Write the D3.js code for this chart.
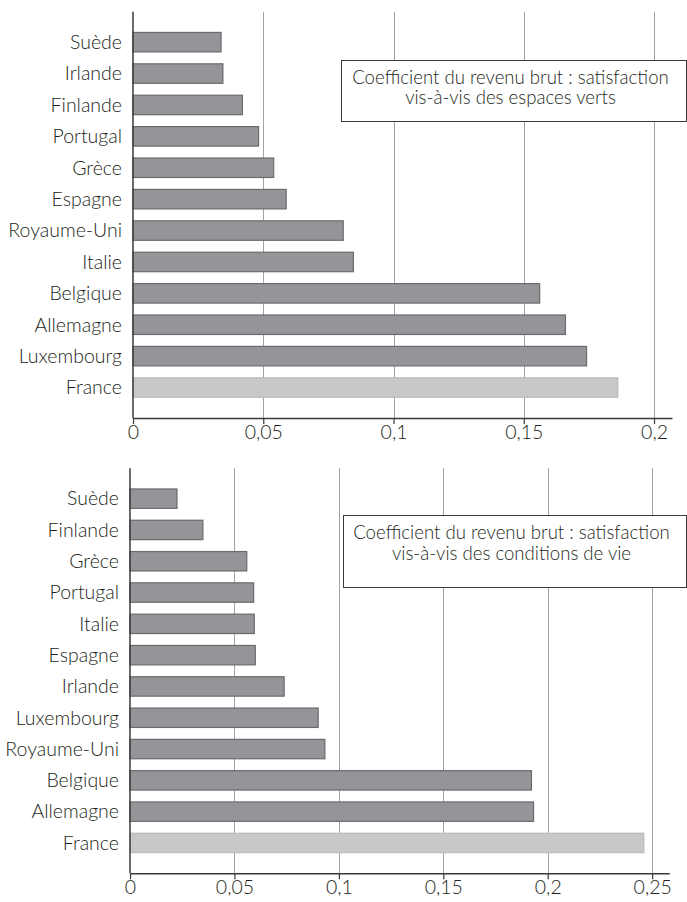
<!DOCTYPE html>
<html><head><meta charset="utf-8">
<script src="https://cdn.jsdelivr.net/npm/d3@7"></script>
<style>body{margin:0;background:#fff}svg{display:block}text{font-family:Lato,"Open Sans",sans-serif;font-weight:300;fill:#231f20}</style>
</head><body>
<script>
const cats1 = ["Suède","Irlande","Finlande","Portugal","Grèce","Espagne","Royaume-Uni","Italie","Belgique","Allemagne","Luxembourg","France"];
const vals1 = [0.0338,0.0345,0.042,0.0482,0.054,0.0588,0.0807,0.0846,0.1561,0.166,0.1741,0.1861];
const ticks1 = [0,0.05,0.1,0.15,0.2];
const title1 = ["Coefficient du revenu brut : satisfaction","vis-à-vis des espaces verts"];

const cats2 = ["Suède","Finlande","Grèce","Portugal","Italie","Espagne","Irlande","Luxembourg","Royaume-Uni","Belgique","Allemagne","France"];
const vals2 = [0.0225,0.0349,0.0559,0.0592,0.0595,0.060,0.0738,0.0901,0.0933,0.1922,0.1932,0.246];
const ticks2 = [0,0.05,0.1,0.15,0.2,0.25];
const title2 = ["Coefficient du revenu brut : satisfaction","vis-à-vis des conditions de vie"];

const svg = d3.select("body").append("svg").attr("width",687).attr("height",902);

function panel(cfg){
  const {cats, vals, ticks, title, xr, xmax, yr, box, lines} = cfg;
  const g = svg.append("g");
  const x = d3.scaleLinear().domain([0,xmax]).range(xr);
  const y = d3.scaleBand().domain(cats).range(yr).paddingInner(0.38).paddingOuter(0.66);
  g.selectAll("line.grid").data(ticks.filter(t=>t>0)).join("line")
    .attr("x1",d=>Math.round(x(d))+0.5).attr("x2",d=>Math.round(x(d))+0.5)
    .attr("y1",yr[0]).attr("y2",yr[1]).attr("stroke","#a3a3a3").attr("stroke-width",1);
  g.selectAll("rect.bar").data(cats).join("rect")
    .attr("x",x(0)).attr("y",d=>y(d))
    .attr("width",(d,i)=>x(vals[i])-x(0)).attr("height",y.bandwidth())
    .attr("fill",d=>d==="France"?"#c7c8ca":"#939598")
    .attr("stroke",d=>d==="France"?"#b9babc":"#6a6b6e").attr("stroke-width",1.2);
  g.selectAll("text.cat").data(cats).join("text")
    .attr("x",x(0)-11).attr("y",d=>y(d)+y.bandwidth()/2).attr("dy","0.35em")
    .attr("text-anchor","end").attr("font-size",19.5).text(d=>d);
  const ax = g.append("g").attr("transform",`translate(0,${yr[1]})`)
    .call(d3.axisBottom(x).tickValues(ticks).tickSize(6).tickSizeOuter(0)
      .tickFormat(d=>String(d).replace(".",",")));
  ax.select(".domain").attr("stroke","#3a3a3a").attr("stroke-width",1.5);
  ax.selectAll(".tick line").attr("stroke","#3a3a3a").attr("stroke-width",1.2);
  ax.selectAll(".tick text").attr("font-size",19.5).attr("font-family","Lato,sans-serif").attr("font-weight",300).attr("fill","#231f20").attr("dy","0.8em").attr("y",5);
  g.append("line").attr("x1",x(0)).attr("x2",x(0)).attr("y1",yr[0]).attr("y2",yr[1])
    .attr("stroke","#3a3a3a").attr("stroke-width",1.5);
  g.append("rect").attr("x",box[0]+0.5).attr("y",box[1]+0.5).attr("width",box[2]).attr("height",box[3])
    .attr("fill","#fff").attr("stroke","#3a3a3a").attr("stroke-width",1);
  g.selectAll("text.tt").data(title).join("text")
    .attr("x",box[0]+box[2]/2-3).attr("y",(d,i)=>lines[i])
    .attr("text-anchor","middle").attr("font-size",18.6).text(d=>d);
}

panel({cats:cats1, vals:vals1, ticks:ticks1, title:title1, xr:[133,672], xmax:0.2069,
  yr:[11.7,418], box:[341,60,345,61], lines:[83.5,104]});
panel({cats:cats2, vals:vals2, ticks:ticks2, title:title2, xr:[130,669.3], xmax:0.2582,
  yr:[468.3,873.3], box:[343,515,343,72], lines:[539,559.5]});
</script>
</body></html>
